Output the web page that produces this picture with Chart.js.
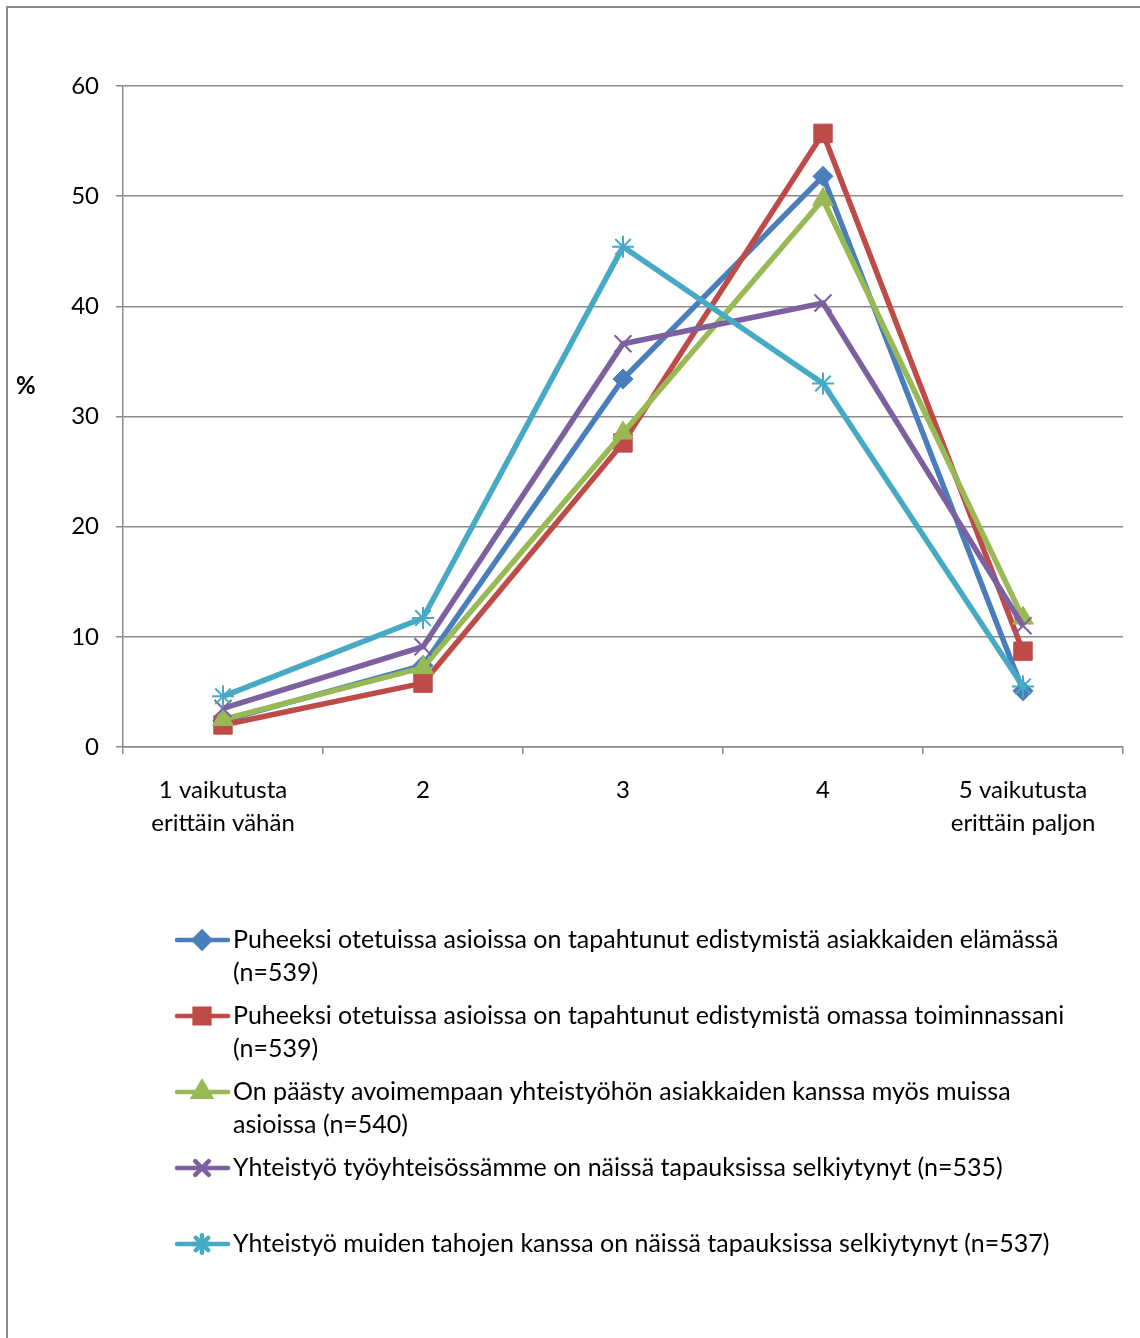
<!DOCTYPE html>
<html>
<head>
<meta charset="utf-8">
<script src="https://cdn.jsdelivr.net/npm/chart.js@4.4.1/dist/chart.umd.min.js"></script>
<style>
  html, body { margin: 0; padding: 0; background: #fff; }
  #wrap { position: relative; width: 1140px; height: 1338px; }
  canvas { display: block; }
</style>
</head>
<body>
<div id="wrap"><canvas id="c" width="1140" height="1338"></canvas></div>
<script>
// Vastausasteikko (x-akseli)
const categories = [['1 vaikutusta', 'erittäin vähän'], '2', '3', '4', ['5 vaikutusta', 'erittäin paljon']];
const yTicks = [0, 10, 20, 30, 40, 50, 60];
const yAxisLabel = '%';

// Sarjojen nimet, rivitettyinä kuten selitteessä
const seriesLabels = [
  ['Puheeksi otetuissa asioissa on tapahtunut edistymistä asiakkaiden elämässä', '(n=539)'],
  ['Puheeksi otetuissa asioissa on tapahtunut edistymistä omassa toiminnassani', '(n=539)'],
  ['On päästy avoimempaan yhteistyöhön asiakkaiden kanssa myös muissa', 'asioissa (n=540)'],
  ['Yhteistyö työyhteisössämme on näissä tapauksissa selkiytynyt (n=535)'],
  ['Yhteistyö muiden tahojen kanssa on näissä tapauksissa selkiytynyt (n=537)']
];

// Prosenttiosuudet
const edistyminenAsiakkaat = [2.4, 7.4, 33.4, 51.8, 5.1];
const edistyminenOma = [2.0, 5.8, 27.6, 55.7, 8.7];
const avoimempiYhteistyo = [2.5, 7.2, 28.5, 49.7, 11.7];
const tyoyhteiso = [3.5, 9.1, 36.6, 40.3, 11.0];
const muutTahot = [4.6, 11.7, 45.4, 33.0, 5.5];

const seriesValues = [edistyminenAsiakkaat, edistyminenOma, avoimempiYhteistyo, tyoyhteiso, muutTahot];
const seriesColors = ['#4A7EBB', '#BE4B48', '#98B954', '#7D60A0', '#46AAC5'];
const seriesPoints = [
  { pointStyle: 'rectRot', pointRadius: 10, pointBorderWidth: 1 },
  { pointStyle: 'rect', pointRadius: 13, pointBorderWidth: 1 },
  { pointStyle: 'triangle', pointRadius: 12, pointBorderWidth: 1 },
  { pointStyle: 'crossRot', pointRadius: 12, pointBorderWidth: 2 },
  { pointStyle: 'star', pointRadius: 11, pointBorderWidth: 2 }
];

const FONT = 'Lato, "Open Sans", sans-serif';
const FONT_SIZE = 24;
const LEGEND_FONT_SIZE = 25;
const LINE_H = 33;

// Valkoinen tausta ja harmaa kehys
const framePlugin = {
  id: 'frame',
  beforeDraw(chart) {
    const ctx = chart.ctx;
    ctx.save();
    ctx.fillStyle = '#fff';
    ctx.fillRect(0, 0, chart.width, chart.height);
    ctx.strokeStyle = '#8a8a8a';
    ctx.lineWidth = 2;
    ctx.beginPath();
    ctx.moveTo(7, chart.height);
    ctx.lineTo(7, 7);
    ctx.lineTo(chart.width, 7);
    ctx.stroke();
    ctx.restore();
  }
};

// Y-akselin nimi ja selite kuvion alapuolella
const legendPlugin = {
  id: 'sideLegend',
  afterDraw(chart) {
    const ctx = chart.ctx;
    ctx.save();
    ctx.fillStyle = '#000';
    ctx.font = 'bold ' + FONT_SIZE + 'px ' + FONT;
    ctx.textAlign = 'left';
    ctx.textBaseline = 'middle';
    ctx.fillText(yAxisLabel, 16, 386);

    ctx.font = LEGEND_FONT_SIZE + 'px ' + FONT;
    const top = chart.chartArea.bottom + 193;
    const step = 76;
    chart.data.datasets.forEach((ds, i) => {
      const y = top + i * step;
      ctx.strokeStyle = ds.borderColor;
      ctx.lineWidth = 4.5;
      ctx.lineCap = 'round';
      ctx.beginPath();
      ctx.moveTo(177, y);
      ctx.lineTo(228, y);
      ctx.stroke();
      ctx.fillStyle = ds.pointBackgroundColor;
      ctx.strokeStyle = ds.pointBorderColor;
      Chart.helpers.drawPoint(ctx, {
        pointStyle: ds.pointStyle,
        radius: ds.pointRadius * 0.8,
        borderWidth: ds.pointBorderWidth,
        rotation: 0
      }, 202, y);
      ctx.fillStyle = '#000';
      seriesLabels[i].forEach((line, k) => {
        ctx.fillText(line, 233, y + k * LINE_H);
      });
    });
    ctx.restore();
  }
};

const datasets = seriesValues.map((vals, i) => ({
  label: seriesLabels[i].join(' '),
  data: vals,
  borderColor: seriesColors[i],
  backgroundColor: seriesColors[i],
  pointBackgroundColor: seriesColors[i],
  pointBorderColor: seriesColors[i],
  borderWidth: 5.5,
  pointStyle: seriesPoints[i].pointStyle,
  pointRadius: seriesPoints[i].pointRadius,
  pointHoverRadius: seriesPoints[i].pointRadius,
  pointBorderWidth: seriesPoints[i].pointBorderWidth,
  tension: 0,
  fill: false,
  order: seriesValues.length - i
}));

new Chart(document.getElementById('c'), {
  type: 'line',
  data: { labels: categories, datasets },
  plugins: [framePlugin, legendPlugin],
  options: {
    responsive: false,
    animation: false,
    devicePixelRatio: 1,
    layout: { padding: { top: 86, right: 17, bottom: 491, left: 0 } },
    plugins: { legend: { display: false }, tooltip: { enabled: false } },
    scales: {
      x: {
        offset: true,
        afterFit(s) { s.height = 100; },
        grid: {
          offset: true,
          drawOnChartArea: false,
          drawTicks: true,
          tickLength: 7,
          color: '#8a8a8a',
          lineWidth: 1.5
        },
        border: { display: true, color: '#8a8a8a', width: 1.5 },
        ticks: {
          color: '#000',
          padding: 20,
          maxRotation: 0,
          autoSkip: false,
          font: { family: FONT, size: FONT_SIZE, lineHeight: LINE_H / FONT_SIZE }
        }
      },
      y: {
        min: 0,
        max: 60,
        afterFit(s) { s.width = 123; },
        afterBuildTicks(s) { s.ticks = yTicks.map(v => ({ value: v })); },
        grid: {
          drawTicks: true,
          tickLength: 7,
          color: '#8a8a8a',
          lineWidth: 1.5
        },
        border: { display: true, color: '#8a8a8a', width: 1.5 },
        ticks: {
          color: '#000',
          padding: 17,
          font: { family: FONT, size: FONT_SIZE }
        }
      }
    }
  }
});
</script>
</body>
</html>
